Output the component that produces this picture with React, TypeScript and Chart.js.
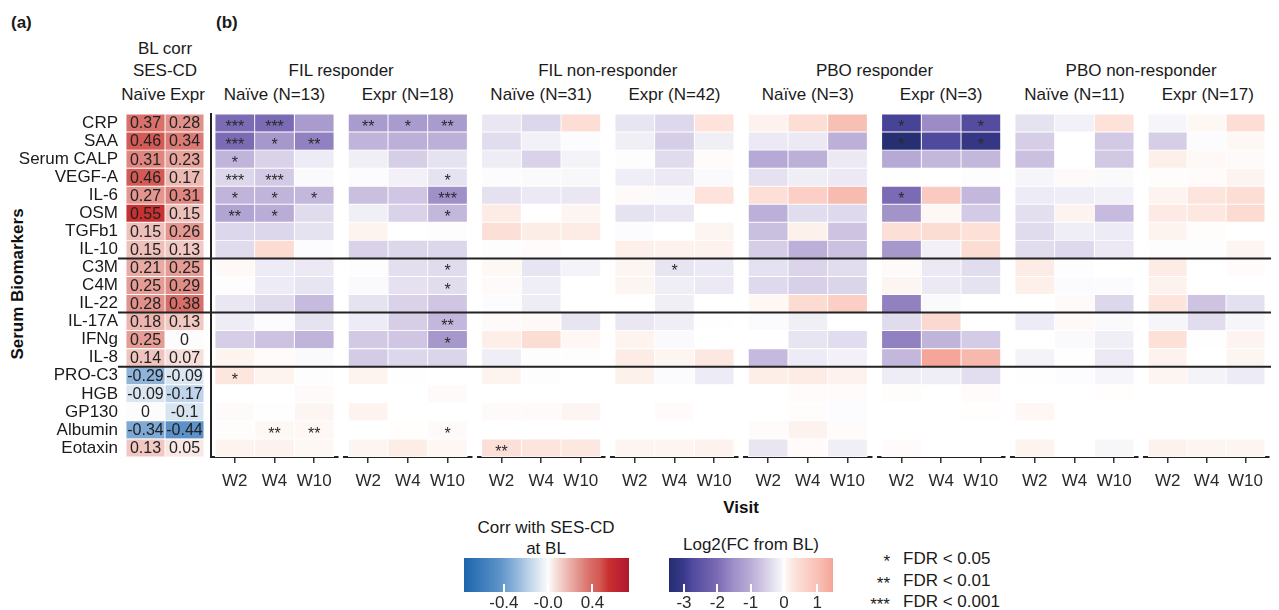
import React, { useEffect, useRef } from 'react';
import { Chart, registerables } from 'chart.js';

Chart.register(...registerables);

const FONT = "'Liberation Sans', Arial, Helvetica, sans-serif";
Chart.defaults.font.family = FONT;

// ---------------- DATA ----------------
const biomarkers = ['CRP', 'SAA', 'Serum CALP', 'VEGF-A', 'IL-6', 'OSM', 'TGFb1', 'IL-10', 'C3M', 'C4M', 'IL-22', 'IL-17A', 'IFNg', 'IL-8', 'PRO-C3', 'HGB', 'GP130', 'Albumin', 'Eotaxin'];
const rowGroupBreaks = [8, 11, 14];
const visits = ['W2', 'W4', 'W10'];
const corrCohorts = ['Naïve', 'Expr'];
const corrNaive = [0.37, 0.46, 0.31, 0.46, 0.27, 0.55, 0.15, 0.15, 0.21, 0.25, 0.28, 0.18, 0.25, 0.14, -0.29, -0.09, 0, -0.34, 0.13];
const corrExpr = [0.28, 0.34, 0.23, 0.17, 0.31, 0.15, 0.26, 0.13, 0.25, 0.29, 0.38, 0.13, 0, 0.07, -0.09, -0.17, -0.1, -0.44, 0.05];

const groupTitles = ['FIL responder', 'FIL non-responder', 'PBO responder', 'PBO non-responder'];
const panelTitles = ['Naïve (N=13)', 'Expr (N=18)', 'Naïve (N=31)', 'Expr (N=42)', 'Naïve (N=3)', 'Expr (N=3)', 'Naïve (N=11)', 'Expr (N=17)'];

// log2(FC from BL), rows = biomarkers, columns = W2, W4, W10
const filRespNaive = [
  [-2.0, -2.0, -1.3], [-2.0, -1.35, -1.7], [-0.9, -0.5, -0.2], [-0.45, -0.6, -0.05], [-0.9, -0.9, -0.85],
  [-1.15, -1.0, -0.4], [-0.45, -0.45, -0.3], [-0.4, 0.45, -0.03], [0.05, -0.2, -0.22], [-0.02, -0.2, -0.27],
  [-0.25, -0.4, -0.8], [-0.18, -0.03, -0.3], [-0.55, -0.7, -0.9], [0.1, 0.03, -0.05], [0.28, 0.1, -0.02],
  [0, 0, 0.04], [0.04, -0.01, 0.08], [0.02, 0.06, 0.07], [0.1, 0.12, 0.06],
];
const filRespExpr = [
  [-1.3, -1.3, -1.3], [-0.9, -0.95, -0.95], [-0.15, -0.55, -0.3], [-0.03, -0.12, -0.3], [-0.75, -0.65, -1.5],
  [-0.15, -0.5, -0.85], [0.1, 0, -0.02], [-0.5, -0.45, -0.45], [-0.02, -0.35, -0.4], [-0.05, -0.32, -0.38],
  [-0.3, -0.5, -0.65], [-0.2, -0.55, -0.85], [-0.62, -0.65, -1.35], [-0.58, -0.45, -0.47], [0.1, -0.01, 0],
  [0, 0, 0.04], [0.1, 0, 0], [0, 0.01, 0.04], [0.08, 0.18, 0.07],
];
const filNonNaive = [
  [-0.25, -0.45, 0.4], [-0.37, -0.13, -0.03], [-0.18, -0.5, -0.1], [-0.03, -0.05, -0.06], [-0.32, -0.22, -0.25],
  [0.2, 0, 0.08], [0.38, 0.18, 0.2], [-0.02, 0.03, 0], [0.06, -0.27, -0.1], [0.04, -0.17, 0],
  [-0.03, -0.18, 0], [0.04, 0.05, -0.27], [0.17, 0.42, 0.07], [-0.17, -0.02, -0.02], [0.1, -0.02, 0],
  [0, 0, 0], [0.04, 0.04, 0.08], [0, 0, 0], [0.38, 0.3, 0.25],
];
const filNonExpr = [
  [-0.27, -0.43, 0.32], [-0.15, -0.55, -0.15], [-0.02, -0.4, 0.03], [-0.17, -0.22, -0.05], [0.04, -0.05, 0.32],
  [-0.3, -0.25, 0], [-0.03, 0, 0.08], [0.15, 0.12, 0.12], [0.08, -0.27, -0.23], [0.08, -0.17, -0.22],
  [0, -0.15, 0], [-0.25, -0.17, -0.01], [0.1, -0.05, 0], [0.2, 0.08, 0.25], [0.13, -0.04, -0.2],
  [0, 0, 0], [0, 0.03, 0], [0, 0, 0], [0.08, 0.08, 0.12],
];
const pboRespNaive = [
  [0.12, 0.4, 1.05], [-0.22, -0.22, -0.95], [-1.05, -0.95, -0.22], [-0.32, -0.17, -0.22], [0.38, 0.7, 1.12],
  [-0.95, -0.38, -0.42], [-0.75, 0.13, -0.68], [-0.55, -0.95, -0.72], [-0.33, -0.48, -0.37], [-0.42, -0.53, -0.47],
  [0.07, 0.45, 0.7], [-0.04, -0.15, 0], [0, -0.27, -0.38], [-0.82, -0.2, -0.12], [0.17, 0.2, 0.12],
  [0, 0.03, 0.03], [0, 0.02, -0.03], [0.03, 0.11, 0.03], [-0.26, 0.03, -0.15],
];
const pboRespExpr = [
  [-2.85, -1.55, -2.7], [-3.4, -2.75, -3.1], [-1.05, -0.85, -0.85], [-0.01, 0, -0.02], [-2.0, 0.8, -0.85],
  [-1.45, 0.06, -0.6], [0.38, 0.42, 0.36], [-1.35, -0.12, 0.42], [0.04, -0.22, -0.37], [0.08, -0.22, -0.3],
  [-1.7, -0.05, 0], [-0.4, 0.5, 0], [-1.7, -0.9, -0.58], [-0.85, 1.45, 1.15], [-0.18, -0.17, -0.36],
  [0.02, 0, 0.03], [0, 0, 0.01], [0, 0, 0], [0.03, 0, 0],
];
const pboNonNaive = [
  [-0.3, -0.13, 0.33], [-0.55, 0, -0.62], [-0.73, 0, -0.63], [-0.08, 0.04, -0.05], [-0.2, -0.17, -0.13],
  [-0.35, 0.1, -0.8], [-0.4, -0.17, -0.2], [-0.37, -0.42, -0.22], [0.2, -0.02, 0], [0.14, -0.04, -0.04],
  [0, 0.04, -0.45], [-0.2, 0.05, -0.05], [0, -0.05, -0.15], [-0.1, -0.01, -0.22], [-0.01, -0.03, -0.08],
  [0, 0, 0.01], [0.07, 0, 0], [0, 0, 0], [0.1, 0, -0.07],
];
const pboNonExpr = [
  [-0.08, 0.06, 0.4], [-0.55, -0.03, 0.06], [0.14, 0.05, 0.04], [0.02, 0.03, 0.09], [0.09, 0.3, 0.4],
  [0.22, 0.25, 0.45], [0.1, 0.02, 0], [-0.02, -0.02, 0.08], [0.2, 0, 0.03], [0.12, 0, 0],
  [0.3, -0.68, -0.34], [-0.08, -0.37, -0.08], [0.36, -0.01, 0.09], [0.11, 0, 0.08], [0.08, -0.1, -0.2],
  [0, 0, 0], [0, 0, 0], [0, 0, 0], [0.11, 0.08, 0.08],
];
const panelValues = [filRespNaive, filRespExpr, filNonNaive, filNonExpr, pboRespNaive, pboRespExpr, pboNonNaive, pboNonExpr];

// significance marks: [panel, biomarker, visit, label]
const significance: [number, string, string, string][] = [
  [0, 'CRP', 'W2', '***'], [0, 'CRP', 'W4', '***'], [0, 'SAA', 'W2', '***'], [0, 'SAA', 'W4', '*'], [0, 'SAA', 'W10', '**'],
  [0, 'Serum CALP', 'W2', '*'], [0, 'VEGF-A', 'W2', '***'], [0, 'VEGF-A', 'W4', '***'],
  [0, 'IL-6', 'W2', '*'], [0, 'IL-6', 'W4', '*'], [0, 'IL-6', 'W10', '*'], [0, 'OSM', 'W2', '**'], [0, 'OSM', 'W4', '*'],
  [0, 'PRO-C3', 'W2', '*'], [0, 'Albumin', 'W4', '**'], [0, 'Albumin', 'W10', '**'],
  [1, 'CRP', 'W2', '**'], [1, 'CRP', 'W4', '*'], [1, 'CRP', 'W10', '**'], [1, 'VEGF-A', 'W10', '*'], [1, 'IL-6', 'W10', '***'],
  [1, 'OSM', 'W10', '*'], [1, 'C3M', 'W10', '*'], [1, 'C4M', 'W10', '*'], [1, 'IL-17A', 'W10', '**'], [1, 'IFNg', 'W10', '*'],
  [1, 'Albumin', 'W10', '*'],
  [2, 'Eotaxin', 'W2', '**'],
  [3, 'C3M', 'W4', '*'],
  [5, 'CRP', 'W2', '*'], [5, 'CRP', 'W10', '*'], [5, 'SAA', 'W2', '*'], [5, 'SAA', 'W10', '*'], [5, 'IL-6', 'W2', '*'],
];

// legends
const corrLimits = [-0.76, 0.73];
const corrTicks = [-0.4, 0, 0.4];
const corrTickLabels = ['-0.4', '-0.0', '0.4'];
const log2Limits = [-3.45, 1.47];
const log2Ticks = [-3, -2, -1, 0, 1];
const log2TickLabels = ['-3', '-2', '-1', '0', '1'];
const fdrStars = ['*', '**', '***'];
const fdrLabels = ['FDR < 0.05', 'FDR < 0.01', 'FDR < 0.001'];

// ---------------- COLOUR SCALES ----------------
type Stop = [number, number, number, number];
const corrStops: Stop[] = [
  [-0.76, 27, 101, 173], [-0.44, 92, 146, 199], [-0.29, 143, 180, 218], [-0.17, 191, 212, 234], [-0.09, 220, 230, 241],
  [0, 252, 252, 252], [0.07, 246, 223, 219], [0.15, 239, 192, 186], [0.25, 229, 156, 149], [0.37, 217, 112, 106],
  [0.46, 212, 90, 85], [0.55, 201, 48, 48], [0.73, 174, 23, 48],
];
const log2Stops: Stop[] = [
  [-3.45, 34, 46, 110], [-3.0, 58, 58, 140], [-2.75, 80, 74, 158], [-2.0, 123, 107, 180], [-1.5, 159, 144, 200],
  [-1.0, 185, 172, 214], [-0.6, 211, 202, 229], [-0.3, 230, 227, 241], [-0.1, 244, 243, 248], [0, 255, 255, 255],
  [0.1, 253, 243, 239], [0.3, 253, 228, 220], [0.45, 252, 219, 210], [0.7, 251, 207, 198], [1.05, 248, 191, 180],
  [1.47, 245, 165, 151],
];
function colorAt(stops: Stop[], v: number): string {
  if (v <= stops[0][0]) return `rgb(${stops[0][1]},${stops[0][2]},${stops[0][3]})`;
  for (let i = 1; i < stops.length; i++) {
    const a = stops[i - 1], b = stops[i];
    if (v <= b[0]) {
      const t = (v - a[0]) / (b[0] - a[0]);
      const c = [1, 2, 3].map((k) => Math.round(a[k] + (b[k] - a[k]) * t));
      return `rgb(${c[0]},${c[1]},${c[2]})`;
    }
  }
  const l = stops[stops.length - 1];
  return `rgb(${l[1]},${l[2]},${l[3]})`;
}

// ---------------- LAYOUT ----------------
const CELL_TOP_CANVAS = 112;
const PAD_TOP = 2;
const X_AXIS_H = 40;
const CANVAS_H = 385;
const PANEL_X0 = 211;
const PANEL_STEP = 133.33;
const PANEL_W = 127;
const TEXT = '#1a1a1a';

// ---------------- PLUGINS ----------------
const rowSeparatorPlugin = {
  id: 'rowSeparators',
  afterDraw(chart: any, _args: any, opts: any) {
    const y = chart.scales.y;
    const ctx = chart.ctx;
    const step = y.getPixelForValue(1) - y.getPixelForValue(0);
    ctx.save();
    ctx.strokeStyle = '#222';
    ctx.lineWidth = 2;
    for (const k of rowGroupBreaks) {
      const py = y.getPixelForValue(k) - step / 2;
      ctx.beginPath();
      ctx.moveTo(opts.x0 ?? 0, py);
      ctx.lineTo(chart.width, py);
      ctx.stroke();
    }
    ctx.restore();
  },
};

const cellStarsPlugin = {
  id: 'cellStars',
  afterDatasetsDraw(chart: any, _args: any, opts: any) {
    const ctx = chart.ctx;
    ctx.save();
    ctx.font = `16px ${FONT}`;
    ctx.fillStyle = '#2a2a2a';
    ctx.textAlign = 'center';
    ctx.textBaseline = 'alphabetic';
    for (const m of opts.marks || []) {
      const el = chart.getDatasetMeta(visits.indexOf(m[2])).data[biomarkers.indexOf(m[1])];
      if (!el) continue;
      const cx = (el.x + el.base) / 2;
      ctx.fillText(m[3], cx, el.y + 9);
    }
    ctx.restore();
  },
};

const cellValuesPlugin = {
  id: 'cellValues',
  afterDatasetsDraw(chart: any) {
    const ctx = chart.ctx;
    ctx.save();
    ctx.font = `16px ${FONT}`;
    ctx.fillStyle = '#222';
    ctx.textAlign = 'center';
    ctx.textBaseline = 'middle';
    chart.data.datasets.forEach((ds: any, di: number) => {
      const meta = chart.getDatasetMeta(di);
      meta.data.forEach((el: any, ri: number) => {
        const v = ds.values[ri];
        ctx.fillText(String(v), (el.x + el.base) / 2, el.y + 1);
      });
    });
    ctx.restore();
  },
};

const gradientBarPlugin = {
  id: 'gradientBar',
  beforeDatasetsDraw(chart: any, _args: any, opts: any) {
    const { ctx, chartArea } = chart;
    const x = chart.scales.x;
    const g = ctx.createLinearGradient(chartArea.left, 0, chartArea.right, 0);
    for (const s of opts.stops as Stop[]) {
      const px = x.getPixelForValue(s[0]);
      const t = Math.min(1, Math.max(0, (px - chartArea.left) / (chartArea.right - chartArea.left)));
      g.addColorStop(t, `rgb(${s[1]},${s[2]},${s[3]})`);
    }
    ctx.save();
    ctx.fillStyle = g;
    ctx.fillRect(chartArea.left, chartArea.top, chartArea.right - chartArea.left, chartArea.bottom - chartArea.top);
    ctx.strokeStyle = '#ffffff';
    ctx.lineWidth = 2;
    for (const t of opts.ticks as number[]) {
      const px = Math.round(x.getPixelForValue(t));
      ctx.beginPath();
      ctx.moveTo(px, chartArea.bottom - 8);
      ctx.lineTo(px, chartArea.bottom);
      ctx.stroke();
    }
    ctx.restore();
  },
};

// ---------------- CHART CONFIGS ----------------
function corrConfig(): any {
  const cols = [corrNaive, corrExpr];
  return {
    type: 'bar',
    data: {
      labels: biomarkers,
      datasets: corrCohorts.map((name, c) => ({
        label: name,
        values: cols[c],
        data: biomarkers.map(() => [c, c + 1]),
        backgroundColor: cols[c].map((v) => colorAt(corrStops, v)),
        borderColor: '#ffffff',
        borderWidth: 0.8,
        borderSkipped: false,
        barPercentage: 1,
        categoryPercentage: 1,
        grouped: false,
      })),
    },
    plugins: [cellValuesPlugin, rowSeparatorPlugin],
    options: {
      indexAxis: 'y',
      responsive: false,
      animation: false,
      events: [],
      layout: { padding: { left: 0, right: 4, top: PAD_TOP, bottom: X_AXIS_H } },
      plugins: { legend: { display: false }, tooltip: { enabled: false }, rowSeparators: { x0: 118 } },
      scales: {
        x: { type: 'linear', min: 0, max: 2, display: false },
        y: {
          type: 'category',
          ticks: { font: { size: 17, family: FONT }, color: TEXT, padding: 8, autoSkip: false },
          grid: { display: false, drawTicks: false },
          border: { display: false },
          afterFit: (s: any) => {
            s.width = 126;
            s.paddingTop = 0;
            s.paddingBottom = 0;
          },
        },
      },
    },
  };
}

function panelConfig(p: number, padLeft: number, padRight: number): any {
  const values = panelValues[p];
  return {
    type: 'bar',
    data: {
      labels: biomarkers,
      datasets: visits.map((v, c) => ({
        label: v,
        data: biomarkers.map(() => [c, c + 1]),
        backgroundColor: values.map((row) => colorAt(log2Stops, row[c])),
        borderColor: '#ffffff',
        borderWidth: 0.8,
        borderSkipped: false,
        barPercentage: 1,
        categoryPercentage: 1,
        grouped: false,
      })),
    },
    plugins: [cellStarsPlugin, rowSeparatorPlugin],
    options: {
      indexAxis: 'y',
      responsive: false,
      animation: false,
      events: [],
      layout: { padding: { left: padLeft, right: padRight, top: PAD_TOP, bottom: 0 } },
      plugins: {
        legend: { display: false },
        tooltip: { enabled: false },
        rowSeparators: { x0: 0 },
        cellStars: { marks: significance.filter((m) => m[0] === p) },
      },
      scales: {
        x: {
          type: 'linear',
          min: -0.1,
          max: 3.1,
          afterBuildTicks: (s: any) => { s.ticks = visits.map((_, i) => ({ value: i + 0.5 })); },
          ticks: {
            callback: (_v: any, i: number) => visits[i],
            font: { size: 17, family: FONT },
            color: '#2a2a2a',
            padding: 8,
            autoSkip: false,
            maxRotation: 0,
          },
          grid: { drawOnChartArea: false, drawTicks: true, tickLength: 6, color: '#333', lineWidth: 1.5 },
          border: { display: true, color: '#222', width: 2 },
          afterFit: (s: any) => { s.height = X_AXIS_H; },
        },
        y: {
          type: 'category',
          display: p === 0,
          ticks: { display: false },
          grid: { display: false, drawTicks: false },
          border: { display: true, color: '#222', width: 2 },
          afterFit: (s: any) => { s.width = 0; },
        },
      },
    },
  };
}

function colorbarConfig(limits: number[], stops: Stop[], ticks: number[], labels: string[]): any {
  return {
    type: 'scatter',
    data: { datasets: [] },
    plugins: [gradientBarPlugin],
    options: {
      responsive: false,
      animation: false,
      events: [],
      layout: { padding: 0 },
      plugins: { legend: { display: false }, tooltip: { enabled: false }, gradientBar: { stops, ticks } },
      scales: {
        x: {
          type: 'linear',
          min: limits[0],
          max: limits[1],
          afterBuildTicks: (s: any) => { s.ticks = ticks.map((v) => ({ value: v })); },
          ticks: {
            callback: (_v: any, i: number) => labels[i],
            font: { size: 17, family: FONT },
            color: '#2a2a2a',
            padding: 1,
            autoSkip: false,
            maxRotation: 0,
          },
          grid: { display: false, drawTicks: false },
          border: { display: false },
          afterFit: (s: any) => { s.height = 18; },
        },
        y: { display: false, min: 0, max: 1 },
      },
    },
  };
}

// ---------------- COMPONENTS ----------------
function ChartBox({ make, left, top, width, height }: { make: () => any; left: number; top: number; width: number; height: number }) {
  const ref = useRef<HTMLCanvasElement>(null);
  useEffect(() => {
    const chart = new Chart(ref.current as HTMLCanvasElement, make());
    return () => chart.destroy();
  }, []);
  return <canvas ref={ref} width={width} height={height} style={{ position: 'absolute', left, top, width, height }} />;
}

function Txt({ x, y, children, bold = false, size = 17, align = 'center', color = TEXT }: any) {
  const tx = align === 'center' ? '-50%' : align === 'right' ? '-100%' : '0';
  return (
    <div
      style={{
        position: 'absolute',
        left: x,
        top: y,
        transform: `translate(${tx}, -50%)`,
        fontFamily: FONT,
        fontSize: size,
        fontWeight: bold ? 700 : 400,
        color,
        whiteSpace: 'nowrap',
        lineHeight: 1,
      }}
    >
      {children}
    </div>
  );
}

export default function App() {
  const panels = panelTitles.map((_, p) => {
    const left = Math.round(PANEL_X0 - 3 + p * PANEL_STEP);
    const right = p === panelTitles.length - 1 ? 1271 : Math.round(PANEL_X0 - 3 + (p + 1) * PANEL_STEP);
    const padLeft = PANEL_X0 + p * PANEL_STEP - left;
    const width = right - left;
    return { left, width, padLeft, padRight: width - padLeft - PANEL_W, center: PANEL_X0 + p * PANEL_STEP + PANEL_W / 2 };
  });
  return (
    <div style={{ position: 'absolute', left: 0, top: 0, width: 1279, height: 610, background: '#fff', overflow: 'hidden' }}>
      <Txt x={11} y={22} bold align="left">(a)</Txt>
      <Txt x={216} y={22} bold align="left">(b)</Txt>
      <Txt x={165} y={48}>BL corr</Txt>
      <Txt x={165} y={70}>SES-CD</Txt>
      <Txt x={143.5} y={94}>{corrCohorts[0]}</Txt>
      <Txt x={187.5} y={94}>{corrCohorts[1]}</Txt>
      {groupTitles.map((t, g) => (
        <Txt key={t} x={(panels[2 * g].center + panels[2 * g + 1].center) / 2} y={70}>{t}</Txt>
      ))}
      {panelTitles.map((t, p) => (
        <Txt key={p} x={panels[p].center} y={94}>{t}</Txt>
      ))}
      <div
        style={{
          position: 'absolute', left: 17, top: 284, transform: 'translate(-50%, -50%) rotate(-90deg)',
          fontFamily: FONT, fontSize: 17, fontWeight: 700, color: '#111', whiteSpace: 'nowrap', lineHeight: 1,
        }}
      >
        Serum Biomarkers
      </div>
      <ChartBox make={corrConfig} left={0} top={CELL_TOP_CANVAS} width={208} height={CANVAS_H} />
      {panels.map((pl, p) => (
        <ChartBox key={p} make={() => panelConfig(p, pl.padLeft, pl.padRight)} left={pl.left} top={CELL_TOP_CANVAS} width={pl.width} height={CANVAS_H} />
      ))}
      <Txt x={741} y={507} bold color="#111">Visit</Txt>

      <Txt x={546} y={527}>Corr with SES-CD</Txt>
      <Txt x={546} y={548}>at BL</Txt>
      <ChartBox make={() => colorbarConfig(corrLimits, corrStops, corrTicks, corrTickLabels)} left={464} top={558} width={165} height={52} />

      <Txt x={751} y={544}>Log2(FC from BL)</Txt>
      <ChartBox make={() => colorbarConfig(log2Limits, log2Stops, log2Ticks, log2TickLabels)} left={669} top={558} width={164} height={52} />

      {fdrStars.map((s, i) => (
        <React.Fragment key={s}>
          <Txt x={890} y={561 + i * 21.5} align="right">{s}</Txt>
          <Txt x={903} y={558 + i * 21.5} align="left">{fdrLabels[i]}</Txt>
        </React.Fragment>
      ))}
    </div>
  );
}
